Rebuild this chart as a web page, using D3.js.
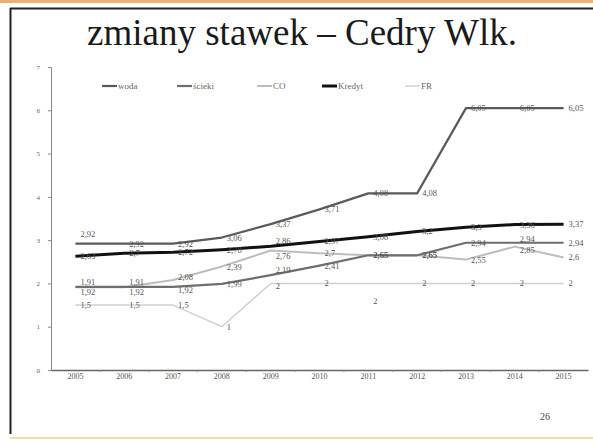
<!DOCTYPE html>
<html><head><meta charset="utf-8">
<script src="https://cdn.jsdelivr.net/npm/d3@7"></script>
<style>body{margin:0;background:#fff}svg{display:block}</style>
</head><body>
<script>
const years = ["2005","2006","2007","2008","2009","2010","2011","2012","2013","2014","2015"];
const woda   = [2.92,2.92,2.92,3.06,3.37,3.71,4.08,4.08,6.05,6.05,6.05];
const scieki = [1.92,1.92,1.92,1.99,2.19,2.41,2.65,2.65,2.94,2.94,2.94];
const co     = [1.91,1.91,2.08,2.39,2.76,2.70,2.65,2.65,2.55,2.85,2.6];
const kredyt = [2.63,2.7,2.72,2.78,2.86,2.97,3.08,3.2,3.3,3.36,3.37];
const fr     = [1.5,1.5,1.5,1,2,2,2,2,2,2,2];
const seriesNames = ["woda","ścieki","CO","Kredyt","FR"];
const yTicks = [0,1,2,3,4,5,6,7];
const title = "zmiany stawek – Cedry Wlk.";

const styles = {
  "woda":   {color:"#5a5a5a", w:2.2},
  "ścieki": {color:"#6e6e6e", w:2.2},
  "CO":     {color:"#bdbdbd", w:2},
  "Kredyt": {color:"#111111", w:3},
  "FR":     {color:"#cfcfcf", w:1.4}
};
const dataMap = {"woda":woda,"ścieki":scieki,"CO":co,"Kredyt":kredyt,"FR":fr};

const W=593,H=441;
const svg=d3.select("body").append("svg").attr("width",W).attr("height",H);
svg.append("rect").attr("width",W).attr("height",H).attr("fill","#fff");
svg.append("rect").attr("x",0).attr("y",0).attr("width",W).attr("height",3).attr("fill","#e9b070");
svg.append("line").attr("x1",10).attr("x2",593).attr("y1",8.5).attr("y2",8.5).attr("stroke","#222").attr("stroke-width",2);
svg.append("line").attr("x1",10.5).attr("x2",10.5).attr("y1",8).attr("y2",434).attr("stroke","#222").attr("stroke-width",2);
svg.append("line").attr("x1",10).attr("x2",593).attr("y1",438).attr("y2",438).attr("stroke","#f3e0a0").attr("stroke-width",2);

svg.append("text").attr("x",302).attr("y",45).attr("text-anchor","middle")
  .attr("font-family","Liberation Serif").attr("font-size",37).attr("fill","#1a1a1a").text(title);

const x=d3.scaleBand().domain(years).range([51,588]);
const y=d3.scaleLinear().domain([0,7]).range([370,67]);
const cx=d=>x(d)+x.bandwidth()/2;

const gy=svg.append("g").attr("transform","translate(51,0)")
  .call(d3.axisLeft(y).tickValues(yTicks).tickSize(3).tickFormat(d3.format("d")));
gy.select(".domain").attr("stroke","#888");
gy.selectAll(".tick line").attr("stroke","#888");
gy.selectAll(".tick text").attr("font-family","Liberation Serif").attr("font-size",7).attr("fill","#666").attr("dx",-5);

const gx=svg.append("g").attr("transform","translate(0,370)")
  .call(d3.axisBottom(x).tickSize(0).tickSizeOuter(0));
gx.select(".domain").attr("stroke","#666").attr("stroke-width",1.4);
gx.selectAll(".tick text").attr("font-family","Liberation Serif").attr("font-size",8).attr("fill","#555").attr("dy",6);
gx.selectAll(".edge").data(years.slice(1)).enter().append("line")
  .attr("x1",d=>x(d)).attr("x2",d=>x(d)).attr("y1",0).attr("y2",2).attr("stroke","#888");

const line=d3.line().x((d,i)=>cx(years[i])).y(d=>y(d));
const fmt=v=>String(+v.toFixed(2)).replace(".",",");

const order=["FR","CO","ścieki","woda","Kredyt"];
order.forEach(name=>{
  svg.append("path").datum(dataMap[name]).attr("d",line).attr("fill","none")
    .attr("stroke",styles[name].color).attr("stroke-width",styles[name].w).attr("stroke-linejoin","round");
});
const nudge={"woda-0":-10,"FR-6":18,"ścieki-9":-4,"CO-9":3,"CO-4":5,"Kredyt-4":-5,"CO-2":-3,"ścieki-2":3,"CO-0":-5,"ścieki-0":5,"CO-1":-5,"ścieki-1":5,"ścieki-4":-5,"FR-4":3};
order.forEach(name=>{
  svg.append("g").selectAll("text").data(dataMap[name]).enter().append("text")
    .attr("x",(d,i)=>cx(years[i])+5)
    .attr("y",(d,i)=>y(d)+3+(nudge[name+"-"+i]||0))
    .attr("font-family","Liberation Serif").attr("font-size",8.5).attr("fill","#555")
    .text(d=>fmt(d));
});

const legX={"woda":102,"ścieki":177,"CO":257,"Kredyt":322,"FR":405};
seriesNames.forEach(name=>{
  const g=svg.append("g");
  g.append("line").attr("x1",legX[name]).attr("x2",legX[name]+15).attr("y1",86).attr("y2",86)
    .attr("stroke",styles[name].color).attr("stroke-width",styles[name].w);
  g.append("text").attr("x",legX[name]+16).attr("y",89).attr("font-family","Liberation Serif")
    .attr("font-size",9).attr("fill","#666").text(name);
});

svg.append("text").attr("x",540).attr("y",420).attr("font-family","Liberation Serif")
  .attr("font-size",10).attr("fill","#444").text("26");
</script>
</body></html>
